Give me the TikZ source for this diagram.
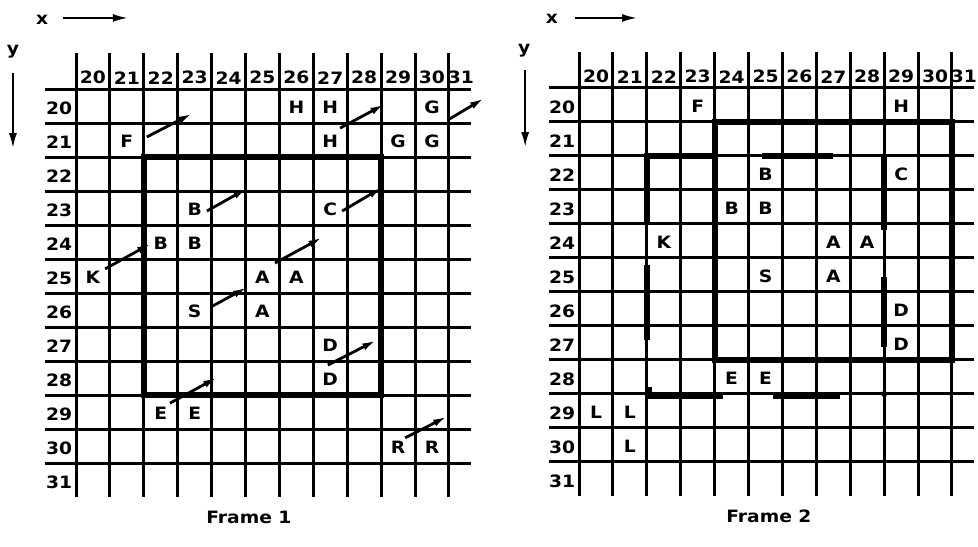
\documentclass[tikz,border=0pt]{standalone}
\usepackage{fontspec}
\setmainfont{DejaVu Sans}
\usetikzlibrary{arrows.meta}
\newcommand{\wide}[1]{\scalebox{1.1}[1]{#1}}
% one numbered grid, #1 = prefix of the node names
\newcommand{\gridframe}[1]{%
  \foreach \i in {0,...,11} \draw[thin line] (\i,-1.06) -- (\i,12);
  \foreach \j in {0,...,11} \draw[thin line] (-0.9,\j) -- (11.65,\j);
  \foreach \n [count=\i from 0] in {20,...,30}
    \node[lab] (#1c\n) at (\i+0.5,-0.33) {\wide{\n}};
  \node[lab] (#1c31) at (11.35,-0.33) {\wide{31}};
  \foreach \n [count=\j from 0] in {20,...,31}
    \node[lab] (#1r\n) at (-0.5,\j+0.57) {\wide{\n}};
}

\begin{document}
\begin{tikzpicture}[x=33.9pt,y=-34pt,
  thin line/.style={line width=3pt},
  wall/.style={line width=6pt},
  lab/.style={font=\fontsize{17}{20}\selectfont\bfseries,inner sep=0pt},
  mv/.style={-{Latex[length=15pt,width=7pt]},line width=2.8pt},
  axis/.style={-{Latex[length=15pt,width=8pt]},line width=2pt}]
  \useasboundingbox (-2.242,-2.618) rectangle (26.608,13.441);
  % Frame 1
  \node[lab] (ax) at (-1.0,-2.03) {\wide{x}};
  \coordinate (ax0) at (-0.38,-2.09); \coordinate (ax1) at (1.53,-2.09);
  \draw[axis] (ax0) -- (ax1);
  \node[lab] (ay) at (-1.86,-1.09) {\wide{y}};
  \coordinate (ay0) at (-1.86,-0.47); \coordinate (ay1) at (-1.86,1.74);
  \draw[axis] (ay0) -- (ay1);
  \gridframe{a}
  \draw[wall] (2,2) rectangle (9,9);
  \foreach \c/\r/\t [count=\k] in {26/20/H,27/20/H,30/20/G,21/21/F,27/21/H,29/21/G,
      30/21/G,23/23/B,27/23/C,22/24/B,23/24/B,20/25/K,25/25/A,26/25/A,23/26/S,
      25/26/A,27/27/D,27/28/D,22/29/E,23/29/E,29/30/R,30/30/R}
    \node[lab] (a\k) at (\c-19.5,\r-19.45) {\wide{\t}};
  \foreach \k/\x/\y/\u/\v in {1/2.09/1.41/3.45/0.71,2/7.79/1.15/9.12/0.44,
      3/10.97/0.91/12.06/0.26,4/3.86/3.59/5.07/2.91,5/7.85/3.59/9.06/2.88,
      6/0.86/5.29/2.24/4.53,7/5.87/5.12/7.29/4.35,8/3.98/6.41/5.07/5.82,
      9/7.43/8.12/8.88/7.38,10/2.77/9.24/4.19/8.47,11/9.71/10.26/10.97/9.62}{
    \coordinate (as\k) at (\x,\y); \coordinate (at\k) at (\u,\v);
    \draw[mv] (as\k) -- (at\k);
  }
  \node[lab] (cap1) at (5.1,12.59) {\wide{Frame 1}};
  % Frame 2
  \begin{scope}[shift={(14.84,-0.03)}]
    \node[lab] (bx) at (-0.8,-2.03) {\wide{x}};
    \coordinate (bx0) at (-0.12,-2.06); \coordinate (bx1) at (1.71,-2.06);
    \draw[axis] (bx0) -- (bx1);
    \node[lab] (by) at (-1.62,-1.09) {\wide{y}};
    \coordinate (by0) at (-1.59,-0.53); \coordinate (by1) at (-1.59,1.74);
    \draw[axis] (by0) -- (by1);
    \gridframe{b}
    \draw[wall] (4,1) rectangle (11,8);
    \draw[wall] (2,3.95) -- (2,2) -- (4,2);
    \draw[wall] (5.4,2) -- (7.5,2);
    \draw[wall] (2,5.2) -- (2,7.4);
    \draw[wall] (9,2) -- (9,4.18);
    \draw[wall] (9,5.56) -- (9,7.62);
    \draw[wall] (2.07,8.8) -- (2.07,9.05) -- (4.25,9.05);
    \draw[wall] (5.72,9.05) -- (7.7,9.05);
    \fill (9,9) circle (3pt);
    \foreach \c/\r/\t [count=\k] in {23/20/F,29/20/H,25/22/B,29/22/C,24/23/B,
        25/23/B,22/24/K,27/24/A,28/24/A,25/25/S,27/25/A,29/26/D,29/27/D,
        24/28/E,25/28/E,20/29/L,21/29/L,21/30/L}
      \node[lab] (b\k) at (\c-19.5,\r-19.45) {\wide{\t}};
    \node[lab] (cap2) at (5.6,12.59) {\wide{Frame 2}};
  \end{scope}
\end{tikzpicture}
\end{document}
